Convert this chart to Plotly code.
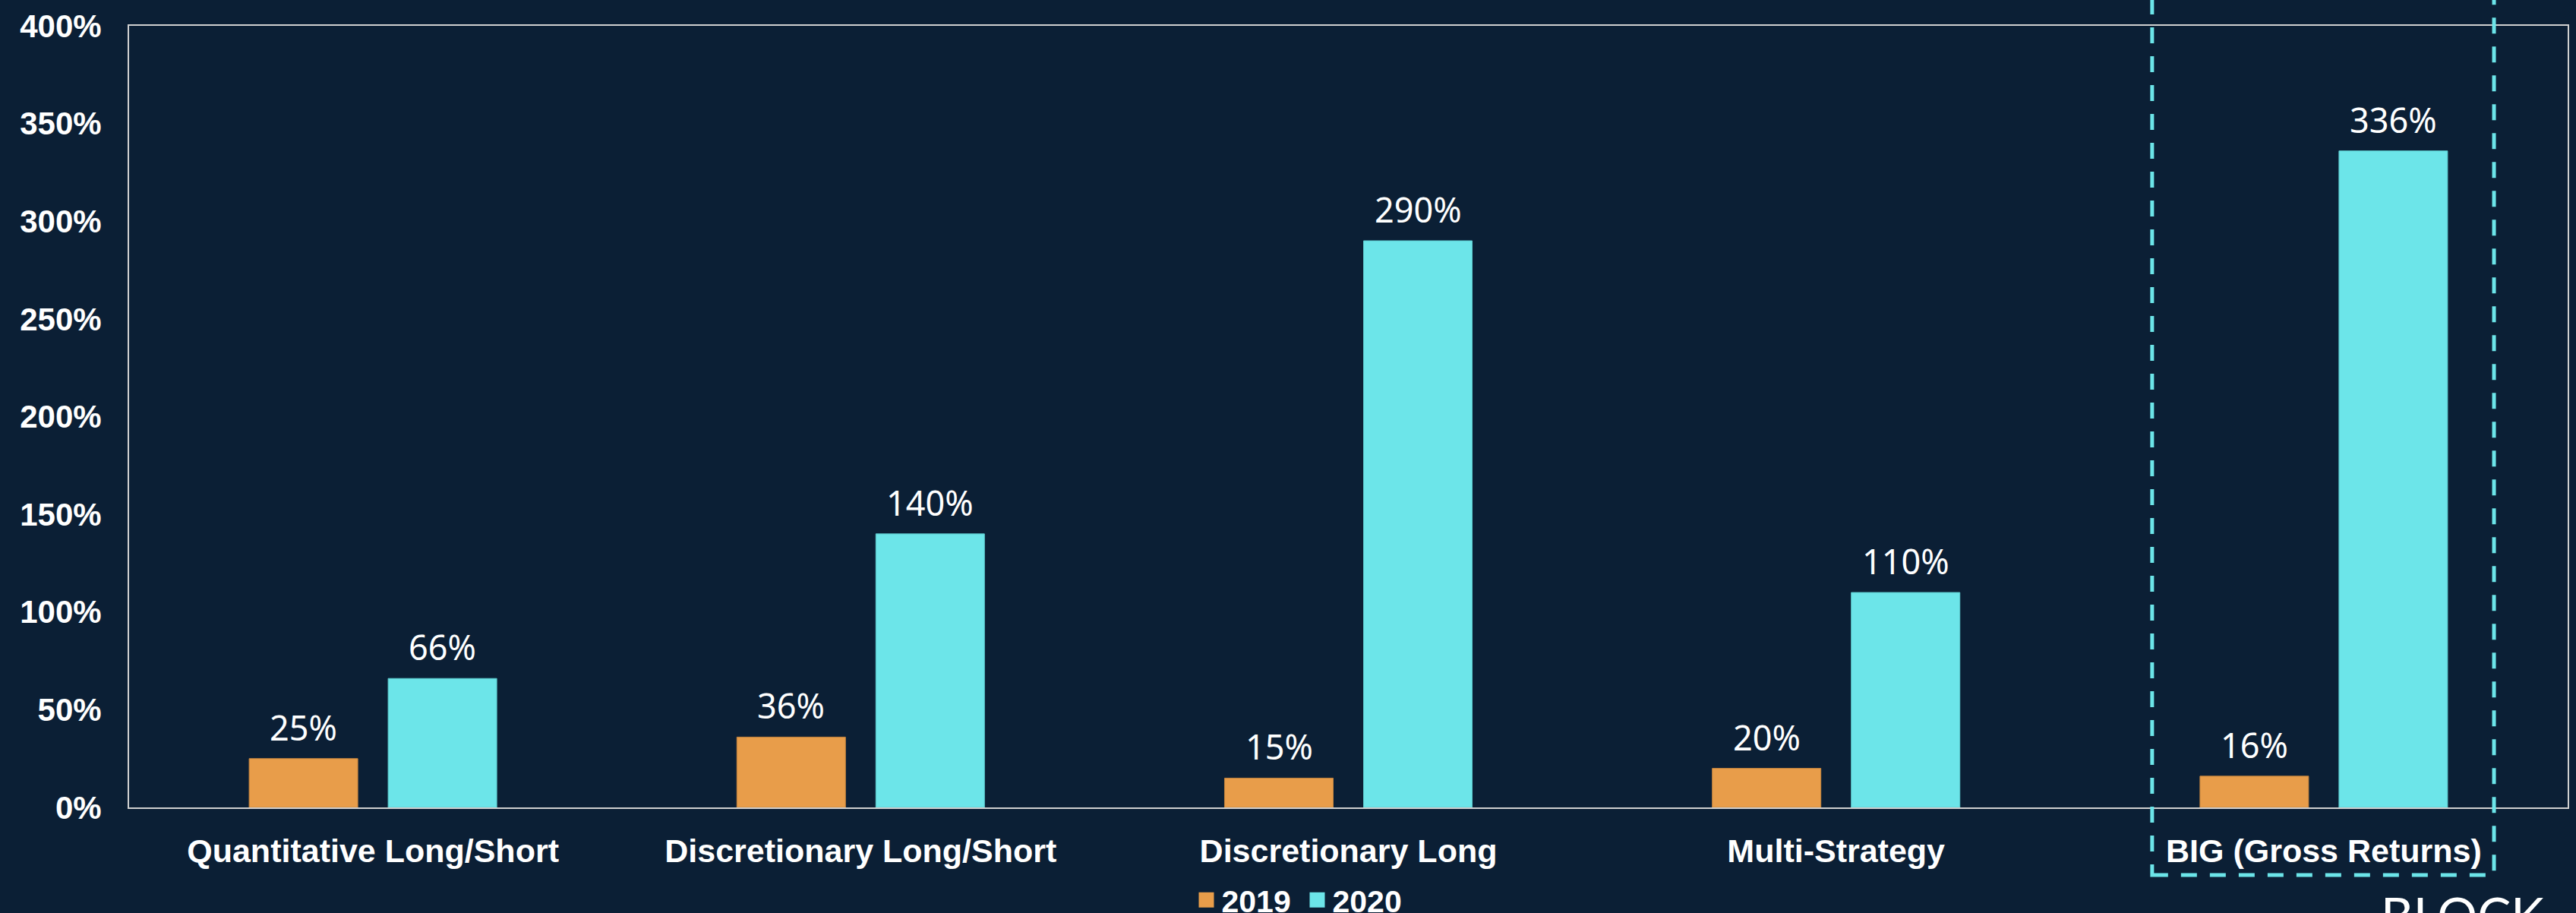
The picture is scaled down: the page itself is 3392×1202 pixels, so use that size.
import plotly.graph_objects as go

categories = ["Quantitative Long/Short", "Discretionary Long/Short", "Discretionary Long",
              "Multi-Strategy", "BIG (Gross Returns)"]
series_names = ["2019", "2020"]
values_2019 = [25, 36, 15, 20, 16]
values_2020 = [66, 140, 290, 110, 336]
y_ticks = [0, 50, 100, 150, 200, 250, 300, 350, 400]

BG = "#0B1F35"
ORANGE = "#E89D4A"
CYAN = "#6CE5E9"
BOLD_FONT = "Liberation Sans, Arial, sans-serif"
LABEL_FONT = "Noto Sans, Open Sans, sans-serif"

fig = go.Figure()
series = [(series_names[0], values_2019, ORANGE, "#C4843E"),
          (series_names[1], values_2020, CYAN, "#5CC9CC")]
for name, vals, col, edge in series:
    fig.add_trace(go.Bar(x=categories, y=vals, name=name, showlegend=False,
                         marker=dict(color=col, line=dict(color=edge, width=1))))
# legend entries with larger square symbols
for name, vals, col, edge in series:
    fig.add_trace(go.Scatter(x=[None], y=[None], mode="markers", name=name,
                             marker=dict(symbol="square", size=16, color=col,
                                         line=dict(color=col, width=4))))

# value labels above bars
offsets = [-91.5, 91.5]
for (name, vals, col, edge), dx in zip(series, offsets):
    for c, v in zip(categories, vals):
        fig.add_annotation(x=c, y=v, text=f"{v}%", showarrow=False,
                           xshift=dx, yshift=9, yanchor="bottom",
                           font=dict(family=LABEL_FONT, size=45, color="white"))

# dashed highlight box around BIG
fig.add_shape(type="rect", xref="x", yref="paper", x0=3.648, x1=4.349,
              y0=-0.0865, y1=1.2, line=dict(color=CYAN, width=5, dash="21px,17px"),
              fillcolor="rgba(0,0,0,0)", layer="above")

# partial logo text at bottom right
fig.add_annotation(xref="paper", yref="paper", x=0.9228, y=-0.0962, xanchor="left",
                   yanchor="top", text="BLOCK", showarrow=False,
                   font=dict(family="Lato, sans-serif", size=66, color="white"))

fig.update_layout(
    width=3392, height=1202,
    paper_bgcolor=BG, plot_bgcolor=BG,
    margin=dict(l=170, r=11, t=34, b=139, autoexpand=False),
    barmode="group", bargap=0.43, bargroupgap=0.2186,
    legend=dict(orientation="h", x=0.481, xanchor="center",
                yref="container", y=0.0141, yanchor="middle",
                entrywidth=101, entrywidthmode="pixels",
                font=dict(family=BOLD_FONT, size=41, color="white", weight="bold"),
                bgcolor="rgba(0,0,0,0)"),
    xaxis=dict(showgrid=False, showline=True, linecolor="#D0D0D0", linewidth=2, mirror=True,
               tickfont=dict(family=BOLD_FONT, size=43, color="white", weight="bold"),
               ticks="", ticklabelstandoff=18, zeroline=False, automargin=False),
    yaxis=dict(range=[0, 400], tickvals=y_ticks, ticktext=[f"{t}%" for t in y_ticks],
               showgrid=False, showline=True, linecolor="#D0D0D0", linewidth=2, mirror=True,
               tickfont=dict(family=BOLD_FONT, size=42, color="white", weight="bold"),
               ticks="", ticklabelstandoff=26, zeroline=False, automargin=False),
)

fig.write_html("out.html")
